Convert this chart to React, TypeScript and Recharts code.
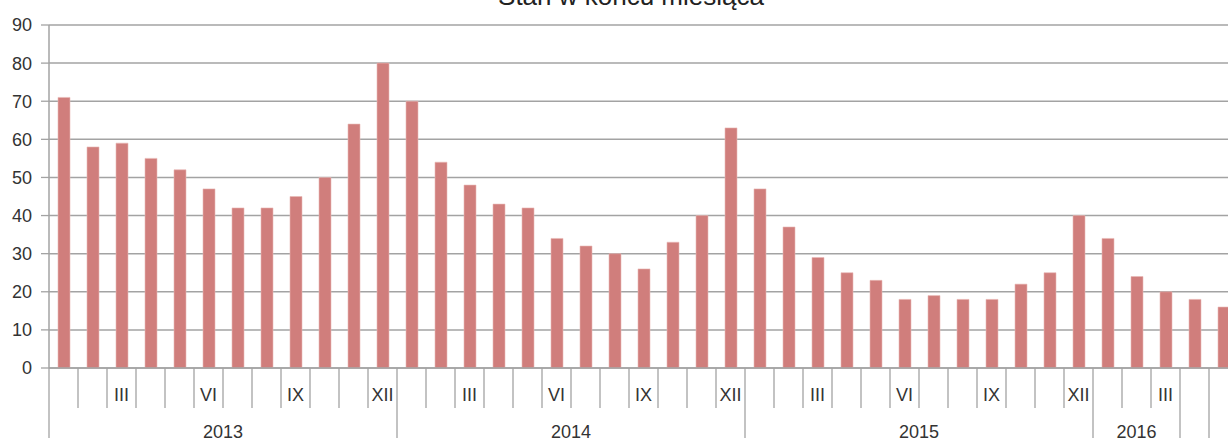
import React from 'react';
import { BarChart, Bar, XAxis, YAxis, CartesianGrid } from 'recharts';

const title = 'Stan w końcu miesiąca';
const months = ['I', 'II', 'III', 'IV', 'V', 'VI', 'VII', 'VIII', 'IX', 'X', 'XI', 'XII'];
const shownMonths = ['III', 'VI', 'IX', 'XII'];
const years = ['2013', '2014', '2015', '2016'];
const values2013 = [71, 58, 59, 55, 52, 47, 42, 42, 45, 50, 64, 80];
const values2014 = [70, 54, 48, 43, 42, 34, 32, 30, 26, 33, 40, 63];
const values2015 = [47, 37, 29, 25, 23, 18, 19, 18, 18, 22, 25, 40];
const values2016 = [34, 24, 20, 18, 16];
const yearGroups = [
  { label: '2013', count: 12 },
  { label: '2014', count: 12 },
  { label: '2015', count: 12 },
  { label: '2016', count: 3 },
  { label: '', count: 1 },
  { label: '', count: 1 },
];
const yTicks = [0, 10, 20, 30, 40, 50, 60, 70, 80, 90];

const allValues = [values2013, values2014, values2015, values2016];
const data: { key: string; month: string; year: string; value: number }[] = [];
allValues.forEach((vals, yi) => {
  vals.forEach((v, mi) => {
    data.push({ key: `${years[yi]}-${months[mi]}`, month: months[mi], year: years[yi], value: v });
  });
});

const groupStart: Record<number, { label: string; count: number }> = {};
{
  let idx = 0;
  yearGroups.forEach((g) => {
    groupStart[idx] = g;
    idx += g.count;
  });
}

const FONT = '"Liberation Sans", Arial, sans-serif';
const GRID = '#A3A3A3';
const TEXT = '#333333';

const CategoryTick = (props: any) => {
  const { x, y, payload, index } = props;
  const i = payload?.index ?? index;
  const half = payload?.offset ? payload.offset : 14.5;
  const band = half * 2;
  const d = data[i];
  const group = groupStart[i];
  const isLast = i === data.length - 1;
  return (
    <g>
      <line x1={x - half} x2={x - half} y1={y} y2={group ? y + 90 : y + 40} stroke={GRID} strokeWidth={1.3} />
      {isLast && <line x1={x + half} x2={x + half} y1={y} y2={y + 90} stroke={GRID} strokeWidth={1.3} />}
      {d && shownMonths.includes(d.month) && (
        <text x={x} y={y + 33} textAnchor="middle" fontSize={18} fontFamily={FONT} fill={TEXT}>
          {d.month}
        </text>
      )}
      {group && group.label && (
        <text x={x + ((group.count - 1) / 2) * band} y={y + 70} textAnchor="middle" fontSize={18} fontFamily={FONT} fill={TEXT}>
          {group.label}
        </text>
      )}
    </g>
  );
};

export default function App() {
  return (
    <div style={{ position: 'fixed', left: 0, top: 0, width: 1228, height: 438, overflow: 'hidden', background: '#fff' }}>
      <svg style={{ position: 'absolute', left: 0, top: 0 }} width={1228} height={30}>
        <text x={631} y={5} textAnchor="middle" fontSize={26} fontFamily={FONT} fill="#222">
          {title}
        </text>
      </svg>
      <div style={{ position: 'absolute', left: 0, top: 0 }}>
        <BarChart width={1260} height={470} data={data} margin={{ top: 25, right: 22, left: 0, bottom: 0 }} barSize={12}>
          <CartesianGrid vertical={false} stroke={GRID} strokeWidth={1.5} />
          <XAxis
            dataKey="key"
            interval={0}
            tickLine={false}
            tickSize={0}
            tickMargin={0}
            height={102}
            axisLine={{ stroke: GRID, strokeWidth: 1.5 }}
            tick={<CategoryTick />}
          />
          <YAxis
            domain={[0, 90]}
            ticks={yTicks}
            interval={0}
            width={49}
            tickSize={8}
            tickMargin={9}
            tickLine={{ stroke: GRID, strokeWidth: 1.3 }}
            axisLine={{ stroke: GRID, strokeWidth: 1.5 }}
            tick={{ fontSize: 18, fontFamily: FONT, fill: TEXT }}
          />
          <Bar dataKey="value" fill="#D07E7C" stroke="#E9B8B6" strokeWidth={0.6} isAnimationActive={false} />
        </BarChart>
      </div>
    </div>
  );
}
